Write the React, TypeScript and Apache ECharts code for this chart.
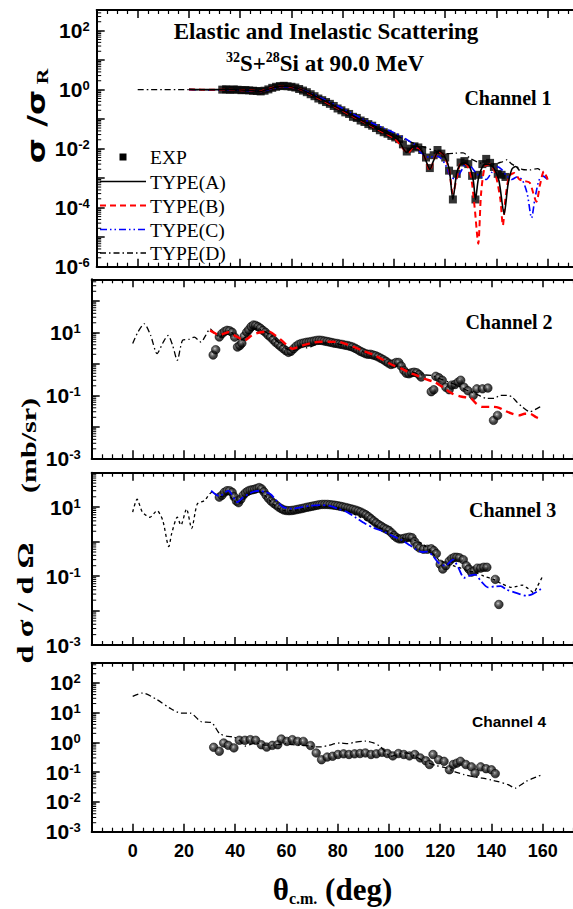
import React, { useEffect, useRef } from 'react';
import * as echarts from 'echarts';

const X_MIN = -16;
const X_MAX = 176;
const X_TICK_LABELS = [0, 20, 40, 60, 80, 100, 120, 140, 160];

// ---------- Channel 1 (sigma / sigma_R) ----------
const ch1Exp: [number, number][] = [
  [33, 1.0], [34.5, 1.03], [36, 0.98], [37.5, 1.02], [39, 0.99], [40.5, 0.96], [42, 0.97], [43.5, 0.94],
  [45, 0.92], [46.5, 0.9], [48, 0.87], [49.5, 0.92], [51, 1.02], [52.5, 1.15], [54, 1.25], [55.5, 1.32],
  [57, 1.35], [58.5, 1.3], [60, 1.25], [61.5, 1.18], [63, 1.05], [64.5, 0.93], [66, 0.82], [67.5, 0.7],
  [69, 0.6], [70.5, 0.5], [72, 0.44], [73.5, 0.38], [75, 0.33], [76.5, 0.28], [78, 0.23], [79.5, 0.2],
  [81, 0.17], [82.5, 0.15], [84, 0.12], [85.5, 0.11], [87, 0.09], [88.5, 0.08], [90, 0.068], [91.5, 0.06],
  [93, 0.05], [94.5, 0.042], [96, 0.036], [97.5, 0.032], [99, 0.027], [100.5, 0.024], [102, 0.021],
  [103.5, 0.014], [105, 0.008], [106.5, 0.01], [108, 0.012], [109.5, 0.011], [111, 0.009], [112.5, 0.005],
  [114, 0.0022], [115.5, 0.006], [117, 0.009], [118.5, 0.0068], [120, 0.005], [121.5, 0.0018], [123, 0.00019],
  [124.5, 0.0014], [126, 0.0034], [127.5, 0.0038], [129, 0.003], [130.5, 0.0012], [131.8, 0.00019],
  [133, 0.0013], [134.5, 0.003], [136, 0.0045], [137.5, 0.0033], [139, 0.0024], [140.5, 0.0014],
  [142, 0.0013], [143.5, 0.0011],
];
const ch1TypeA: [number, number][] = [
  [20, 1.02], [25, 1.0], [30, 1.0], [35, 1.0], [40, 0.97], [44, 0.93], [48, 0.88], [52, 1.1], [56, 1.32],
  [60, 1.25], [64, 1.0], [68, 0.68], [72, 0.46], [76, 0.3], [80, 0.2], [84, 0.13], [88, 0.085], [92, 0.056],
  [96, 0.037], [100, 0.025], [102, 0.018], [104, 0.009], [105, 0.0075], [107, 0.011], [109, 0.012],
  [111, 0.008], [113, 0.003], [114, 0.002], [115.5, 0.004], [117.5, 0.0085], [119.5, 0.006], [121.5, 0.0022],
  [123, 0.00019], [124.5, 0.0015], [126, 0.003], [127.5, 0.0033], [129.5, 0.0025], [131, 0.0008],
  [131.8, 0.00019], [133, 0.001], [135, 0.0028], [137, 0.003], [139, 0.0022], [141, 0.0008], [143, 0.00006],
  [144.5, 0.0006], [146, 0.002], [147.5, 0.0025], [149, 0.0018],
];
const ch1TypeB: [number, number][] = [
  [20, 1.02], [25, 1.0], [30, 1.0], [35, 1.0], [40, 0.96], [44, 0.93], [48, 0.89], [52, 1.12], [56, 1.3],
  [60, 1.22], [64, 0.98], [68, 0.66], [72, 0.44], [76, 0.29], [80, 0.19], [84, 0.125], [88, 0.082],
  [92, 0.054], [96, 0.035], [100, 0.023], [102, 0.015], [104, 0.009], [105.5, 0.007], [107.5, 0.011],
  [110, 0.01], [112, 0.005], [114, 0.0018], [115.5, 0.004], [117.5, 0.008], [119.5, 0.006], [121.5, 0.002],
  [123, 0.0003], [124.5, 0.001], [126, 0.003], [128, 0.003], [130, 0.0012], [131.5, 0.0001],
  [132.9, 0.000006], [134, 0.0003], [135.5, 0.0025], [137.5, 0.003], [139.5, 0.0015], [141.5, 0.0002],
  [142.5, 0.000025], [143.5, 0.0002], [145, 0.0012], [147, 0.0015], [149, 0.0009], [151, 0.0008],
  [153, 0.0007], [155.6, 0.00016], [157, 0.0006], [158.5, 0.0017], [160, 0.0009],
];
const ch1TypeC: [number, number][] = [
  [20, 1.0], [25, 0.99], [30, 0.98], [35, 0.97], [40, 0.95], [44, 0.92], [48, 0.87], [52, 1.05], [56, 1.25],
  [60, 1.22], [64, 1.0], [68, 0.72], [72, 0.5], [76, 0.34], [80, 0.23], [84, 0.15], [88, 0.1], [92, 0.07],
  [96, 0.05], [100, 0.035], [103, 0.026], [106, 0.018], [108, 0.014], [110, 0.008], [112, 0.006],
  [114, 0.005], [116, 0.0058], [118, 0.005], [120, 0.003], [122, 0.0012], [124, 0.0009], [126, 0.0016],
  [128, 0.003], [130, 0.0025], [132, 0.0015], [134, 0.0011], [136, 0.0009], [138, 0.0015], [140, 0.0025],
  [142, 0.002], [144, 0.0012], [146, 0.0009], [148, 0.0011], [150, 0.0009], [152, 0.0003],
  [153.7, 0.000045], [155, 0.0002], [156.5, 0.0008], [158, 0.0012], [160, 0.0009],
];
const ch1TypeD: [number, number][] = [
  [0, 1.0], [5, 1.0], [10, 1.0], [15, 1.0], [20, 1.0], [25, 1.0], [30, 1.0], [35, 0.99], [40, 0.97],
  [44, 0.93], [48, 0.9], [52, 1.1], [56, 1.3], [60, 1.25], [64, 1.02], [68, 0.7], [72, 0.48], [76, 0.32],
  [80, 0.21], [84, 0.14], [88, 0.092], [92, 0.062], [96, 0.043], [100, 0.03], [104, 0.021], [108, 0.015],
  [112, 0.011], [116, 0.0085], [120, 0.0068], [124, 0.007], [127, 0.0072], [130, 0.0045], [134, 0.0032],
  [138, 0.0029], [142, 0.0035], [144, 0.0042], [146, 0.003], [150, 0.002], [153, 0.0019], [156, 0.0021],
  [158, 0.0016], [160, 0.001],
];

// ---------- Channel 2 ----------
const ch2Exp: [number, number][] = [
  [31.4, 1.9], [32.4, 2.8], [33.8, 7.1], [34.8, 9], [35.8, 10.5], [36.8, 11.5], [37.8, 11.2], [38.8, 10],
  [39.8, 7], [40.9, 3.4], [41.8, 3.8], [42.6, 4.5], [43.5, 7.5], [44.5, 10], [45.3, 12], [46.2, 15],
  [47.1, 17], [48, 16.5], [48.9, 15], [49.8, 13.5], [50.8, 11.5], [51.8, 10], [52.8, 8.2], [53.8, 7],
  [54.8, 5.8], [55.8, 4.8], [56.8, 4.1], [57.8, 3.5], [58.8, 3.0], [59.8, 2.6], [60.8, 2.3], [61.8, 2.5],
  [62.8, 3.0], [63.8, 3.6], [64.8, 4.1], [65.8, 4.4], [66.8, 4.6], [67.8, 4.8], [68.8, 4.9], [69.8, 5.1],
  [70.8, 5.3], [71.8, 5.5], [72.8, 5.6], [73.8, 5.5], [74.8, 5.3], [75.8, 5.1], [76.8, 4.9], [77.8, 4.7],
  [78.8, 4.5], [79.8, 4.4], [80.8, 4.2], [81.8, 4.1], [82.8, 3.9], [83.8, 3.8], [84.8, 3.6], [85.8, 3.4],
  [86.8, 3.1], [87.8, 2.8], [88.8, 2.5], [89.8, 2.3], [90.8, 2.1], [91.8, 2.0], [92.8, 2.0], [93.8, 1.9],
  [94.8, 1.8], [95.8, 1.65], [96.8, 1.5], [97.8, 1.35], [98.8, 1.2], [99.8, 1.05], [100.8, 0.95],
  [101.8, 1.0], [102.8, 1.1], [103.8, 1.1], [104.8, 0.85], [105.8, 0.62], [106.8, 0.5], [107.8, 0.48],
  [108.8, 0.52], [109.8, 0.54], [110.8, 0.52], [111.8, 0.45], [112.6, 0.38], [116.5, 0.13], [117.5, 0.15],
  [118.3, 0.4], [119.5, 0.36], [120.8, 0.3], [122.2, 0.18], [123.5, 0.15], [124.5, 0.21], [125.8, 0.22],
  [127, 0.26], [128, 0.3], [129.3, 0.18], [130.8, 0.14], [132.9, 0.1], [134.3, 0.16], [136.5, 0.16],
  [138.6, 0.17], [140.8, 0.016], [142.4, 0.023],
];
const ch2TypeB: [number, number][] = [
  [30.2, 11.5], [32, 9.5], [33.8, 8], [35.5, 9], [37.3, 10], [39, 8.5], [40.9, 7], [42.5, 6], [43.8, 5.6],
  [46, 7.5], [48, 9.1], [50, 10], [52, 10.5], [53.7, 10.2], [56, 7.5], [58, 5.6], [60, 4], [62.3, 3],
  [64.5, 3.4], [66.6, 3.9], [70, 4.6], [72, 4.9], [76, 5], [80.8, 4.9], [84, 4], [89.4, 2.7], [94, 1.9],
  [98, 1.3], [101, 0.95], [105, 0.7], [108, 0.52], [110.8, 0.43], [114, 0.33], [118, 0.26], [121, 0.18],
  [125, 0.11], [128.5, 0.09], [132, 0.08], [134, 0.055], [136.5, 0.043], [140.8, 0.043], [143, 0.04],
  [145, 0.033], [148, 0.026], [150.7, 0.023], [153, 0.026], [155, 0.026], [157.5, 0.02], [160, 0.016],
];
const ch2TypeD: [number, number][] = [
  [0, 4.4], [2, 10], [4.5, 18.6], [7, 8], [9.5, 2.1], [12, 5], [13.8, 7.9], [15.5, 4], [17.4, 1.3],
  [19.5, 5.6], [22, 6], [24, 7], [26.6, 4.9], [28.5, 8], [30.2, 13], [32, 9], [34, 7], [36, 10], [38, 11],
  [40, 7], [42, 5.5], [44, 7], [46, 10], [48, 13], [50, 12], [52, 10], [54, 8], [56, 5.5], [58, 4], [60, 3],
  [62, 2.6], [64, 3], [66, 3.5], [68, 3.2], [70, 3.6], [72, 4.2], [76, 4.6], [80, 4.3], [84, 3.6], [88, 2.8],
  [92, 2.0], [96, 1.5], [100, 1.1], [104, 0.8], [108, 0.6], [112, 0.45], [116.5, 0.43], [120, 0.33],
  [124, 0.25], [126.5, 0.21], [130, 0.15], [134, 0.11], [138, 0.08], [141, 0.08], [143.6, 0.1], [146, 0.1],
  [148, 0.089], [150, 0.06], [152, 0.043], [155, 0.03], [157, 0.035], [159, 0.043], [160, 0.045],
];

// ---------- Channel 3 ----------
const ch3Exp: [number, number][] = [
  [33.8, 19.5], [34.8, 22], [35.8, 27], [36.8, 30], [37.8, 30], [38.8, 27], [39.6, 20], [40.5, 15],
  [41.3, 13.5], [42.2, 17], [43.1, 22], [44, 26], [44.9, 29], [45.8, 31], [46.7, 32], [47.6, 33], [48.5, 35],
  [49.4, 37], [50.3, 34], [51.2, 28], [52.1, 22], [53, 18], [54, 15], [55, 13], [56, 11.5], [57, 10], [58, 9],
  [59, 8.3], [60, 8], [61, 7.9], [62, 8], [63, 8.2], [64, 8.5], [65, 8.8], [66, 9.1], [67, 9.5], [68, 9.9],
  [69, 10.2], [70, 10.6], [71, 11], [72, 11.4], [73, 11.8], [74, 12], [75, 12], [76, 12], [77, 11.8],
  [78, 11.6], [79, 11.3], [80, 11], [81, 10.6], [82, 10.2], [83, 9.8], [84, 9.4], [85, 9], [86, 8.6],
  [87, 8.2], [88, 7.7], [89, 7.2], [90, 6.6], [91, 6], [92, 5.3], [93, 4.6], [94, 4], [95, 3.5], [96, 3.1],
  [97, 2.8], [98, 2.5], [99, 2.3], [100, 2.1], [101, 1.8], [102, 1.5], [103, 1.3], [104, 1.2], [105, 1.2],
  [106, 1.25], [107, 1.3], [108, 1.35], [109, 1.3], [110, 1.0], [111, 0.75], [112, 0.65], [113.5, 0.6],
  [115, 0.6], [116.5, 0.62], [117.5, 0.55], [118.5, 0.45], [120, 0.22], [121, 0.16], [122.2, 0.2],
  [123.5, 0.27], [124.5, 0.32], [125.5, 0.35], [126.5, 0.35], [127.5, 0.34], [129, 0.3], [130.2, 0.2],
  [131.2, 0.16], [132.2, 0.13], [133.2, 0.14], [134.5, 0.17], [135.8, 0.17], [137, 0.18], [138.2, 0.18],
  [141.5, 0.08], [142.9, 0.015],
];
const ch3TypeC: [number, number][] = [
  [30.6, 30], [33.8, 21], [37.3, 30], [40.9, 14], [43, 19], [45.2, 24], [47, 28], [49.5, 30], [51.5, 28],
  [53.7, 24], [56, 16], [58.7, 10], [62.3, 9], [66, 10], [69.4, 11], [73, 11.5], [76.6, 11], [80, 9],
  [83.7, 7.2], [87, 5], [90.8, 3.3], [94, 2.5], [98, 1.95], [101, 1.5], [105.1, 1.1], [108, 0.8],
  [110.8, 0.58], [113, 0.5], [115, 0.51], [117, 0.4], [119.4, 0.24], [122, 0.2], [125, 0.3], [127, 0.18],
  [129.3, 0.089], [131, 0.1], [133.6, 0.11], [136, 0.07], [138.6, 0.047], [141, 0.05], [143.6, 0.051],
  [146, 0.04], [149.3, 0.033], [151, 0.03], [153.6, 0.027], [156, 0.03], [159.3, 0.042],
];
const ch3TypeD: [number, number][] = [
  [0, 7.2], [1.7, 17], [3.8, 7.2], [6.7, 5.1], [9.5, 7.9], [11.7, 4.2], [14.1, 0.72], [15.2, 1.7],
  [17.4, 5.1], [18.8, 3], [21, 8.9], [23, 2.4], [25.2, 12.3], [28, 15.5], [30.9, 27], [33, 22], [35, 20],
  [37, 24], [39, 17], [41, 13], [43, 17], [45, 22], [47, 27], [49, 29], [51, 24], [53, 17], [55, 12], [57, 9],
  [59, 8], [62, 8], [65, 8.5], [68, 9.5], [72, 10.5], [76, 10.5], [80, 9.5], [84, 7.5], [88, 5.5], [92, 3.8],
  [96, 2.6], [100, 1.9], [104, 1.4], [108, 1.1], [110, 1.1], [113.7, 0.79], [116, 0.55], [119.4, 0.3],
  [122, 0.24], [125, 0.2], [128, 0.17], [131, 0.14], [133.6, 0.13], [137, 0.1], [140.8, 0.08], [144, 0.06],
  [147.9, 0.047], [150, 0.05], [152, 0.055], [153.6, 0.047], [155, 0.04], [156.4, 0.033], [157.9, 0.05],
  [160, 0.1],
];

// ---------- Channel 4 ----------
const ch4Exp: [number, number][] = [
  [31.6, 0.68], [33.8, 0.5], [35.5, 0.95], [37.3, 0.79], [39.5, 0.65], [41.6, 1.17], [43.8, 1.17],
  [45.9, 1.23], [48, 1.17], [50.2, 0.83], [52.3, 0.69], [54.5, 0.79], [56.6, 0.83], [58, 1.29], [60.2, 1.07],
  [62.3, 1.23], [64.4, 1.07], [66.6, 1.07], [69.4, 0.78], [71.6, 0.44], [73.7, 0.26], [75.9, 0.32],
  [78, 0.34], [80.1, 0.39], [82.3, 0.41], [84.4, 0.39], [86.6, 0.41], [88.7, 0.42], [90.8, 0.44], [93, 0.39],
  [95.1, 0.41], [97.3, 0.46], [99.4, 0.42], [101.5, 0.35], [103.7, 0.42], [105.8, 0.39], [108, 0.35],
  [110.1, 0.39], [112.2, 0.3], [114.4, 0.24], [115.8, 0.18], [117.2, 0.39], [119.4, 0.26], [121.5, 0.23],
  [123.6, 0.12], [125.1, 0.18], [126.5, 0.2], [127.9, 0.23], [130, 0.18], [132.2, 0.15], [133.6, 0.093],
  [135.8, 0.15], [137.9, 0.13], [140, 0.12], [141.5, 0.089],
];
const ch4TypeD: [number, number][] = [
  [0, 35], [3.8, 45], [9.5, 27], [14.5, 14], [18.8, 9.6], [22.4, 9.6], [26.6, 5], [30.9, 4.5], [33.8, 2],
  [36.6, 1.6], [39.5, 1.5], [41.5, 1.2], [43.8, 0.75], [46, 0.85], [48, 0.95], [52, 0.8], [56.6, 0.83],
  [60, 0.9], [62.3, 0.83], [66, 0.8], [69.4, 0.74], [71, 0.7], [73.7, 0.7], [76.6, 0.8], [80.8, 0.95],
  [84, 0.9], [86.6, 1.0], [90.8, 1.1], [94, 0.95], [96.5, 0.74], [100.8, 0.34], [103, 0.38], [106.5, 0.44],
  [110, 0.35], [113.7, 0.23], [118, 0.17], [122.2, 0.14], [126, 0.1], [129.3, 0.083], [133, 0.07],
  [136.5, 0.063], [140, 0.054], [142.2, 0.049], [146.5, 0.038], [149.3, 0.029], [151, 0.035], [153.6, 0.049],
  [156.4, 0.063], [160, 0.083],
];

const Y_MIN = [1e-6, 1e-3, 1e-3, 1e-3];
const Y_MAX = [500, 480, 100, 470];
const CHANNEL_LABELS = ['Channel 1', 'Channel 2', 'Channel 3', 'Channel 4'];
const LEGEND_NAMES = ['EXP', 'TYPE(A)', 'TYPE(B)', 'TYPE(C)', 'TYPE(D)'];

const SERIF = '"Liberation Serif", "Times New Roman", serif';
const SANS = '"Liberation Sans", Arial, sans-serif';

const STYLE_A = { color: '#000', width: 1.6, type: 'solid' as any };
const STYLE_B = { color: '#ff0000', width: 2, type: [6, 4] as any };
const STYLE_C = { color: '#0000ff', width: 1.6, type: [7, 3, 1.5, 3, 1.5, 3] as any };
const STYLE_D = { color: '#000', width: 1.3, type: [6, 3, 1.5, 3] as any };

const GRIDS = [
  { left: 96.7, top: 10, width: 492, height: 256.7 },
  { left: 91.7, top: 279.3, width: 492, height: 179 },
  { left: 91.7, top: 472.7, width: 492, height: 172.3 },
  { left: 91.7, top: 662.7, width: 492, height: 169 },
];

function buildOption() {
  const sphere = new echarts.graphic.RadialGradient(0.4, 0.38, 0.62, [
    { offset: 0, color: '#cfcfcf' },
    { offset: 0.22, color: '#6a6a6a' },
    { offset: 0.6, color: '#1a1a1a' },
    { offset: 1, color: '#000' },
  ]);

  const xAxes: any[] = [];
  GRIDS.forEach((_, i) => {
    const base = {
      type: 'value',
      gridIndex: i,
      min: X_MIN,
      max: X_MAX,
      splitNumber: 10,
      splitLine: { show: false },
      axisLine: { show: true, onZero: false, lineStyle: { color: '#000', width: 2 } },
      axisTick: { show: true, inside: true, length: 8, lineStyle: { color: '#000', width: 1.5 } },
      minorTick: { show: true, splitNumber: 5, length: 4, lineStyle: { color: '#000', width: 1.2 } },
    };
    xAxes.push({
      ...base,
      position: 'bottom',
      axisLabel: {
        show: i === 3,
        margin: 10,
        color: '#000',
        fontSize: 18,
        fontWeight: 'bold',
        fontFamily: SANS,
        formatter: (v: number) => (X_TICK_LABELS.indexOf(Math.round(v)) >= 0 && Math.abs(v - Math.round(v)) < 1e-6 ? String(Math.round(v)) : ''),
      },
    });
    xAxes.push({ ...base, position: 'top', axisLabel: { show: false } });
  });

  const showExp = [
    (e: number) => e % 2 === 0,
    (e: number) => Math.abs(e % 2) === 1,
    (e: number) => Math.abs(e % 2) === 1,
    (_e: number) => true,
  ];

  const yAxes = GRIDS.map((_, i) => ({
    type: 'log',
    logBase: 10,
    gridIndex: i,
    min: Y_MIN[i],
    max: Y_MAX[i],
    splitLine: { show: false },
    axisLine: { show: true, onZero: false, lineStyle: { color: '#000', width: 2 } },
    axisTick: { show: true, inside: true, length: 8, lineStyle: { color: '#000', width: 1.5 } },
    minorTick: { show: false },
    axisLabel: {
      margin: i === 0 ? 7 : 11,
      formatter: (v: number) => {
        const l = Math.log10(v);
        const e = Math.round(l);
        if (Math.abs(l - e) > 1e-6) return '';
        if (!showExp[i](e)) return '';
        return `{b|10}{e|${e}}`;
      },
      rich: {
        b: { fontSize: 21, fontWeight: 'bold', fontFamily: SANS, color: '#000', lineHeight: 21 },
        e: { fontSize: 13, fontWeight: 'bold', fontFamily: SANS, color: '#000', lineHeight: 12, verticalAlign: 'top' },
      },
    },
  }));

  const minorTicks = (i: number) => {
    const vals: [number, number][] = [];
    const lo = Math.floor(Math.log10(Y_MIN[i]));
    const hi = Math.ceil(Math.log10(Y_MAX[i]));
    for (let e = lo; e <= hi; e++) {
      for (let k = 2; k <= 9; k++) {
        const v = k * Math.pow(10, e);
        if (v > Y_MIN[i] && v < Y_MAX[i]) vals.push([X_MIN, v]);
      }
    }
    return {
      type: 'custom',
      xAxisIndex: i * 2,
      yAxisIndex: i,
      silent: true,
      clip: false,
      z: 5,
      data: vals,
      renderItem: (_p: any, api: any) => {
        const pt = api.coord([api.value(0), api.value(1)]);
        return {
          type: 'line',
          shape: { x1: pt[0], y1: pt[1], x2: pt[0] + 4.5, y2: pt[1] },
          style: { stroke: '#000', lineWidth: 1 },
        };
      },
    };
  };

  const line = (name: string, i: number, data: [number, number][], ls: any) => ({
    type: 'line',
    name,
    xAxisIndex: i * 2,
    yAxisIndex: i,
    data,
    symbol: 'none',
    showSymbol: false,
    smooth: 0.25,
    clip: true,
    z: 3,
    lineStyle: ls,
  });

  const expSquares = (i: number, data: [number, number][]) => ({
    type: 'scatter',
    name: 'EXP',
    xAxisIndex: i * 2,
    yAxisIndex: i,
    data,
    symbol: 'rect',
    symbolSize: 8,
    z: 2,
    itemStyle: { color: '#000' },
  });
  const expBalls = (i: number, data: [number, number][]) => ({
    type: 'scatter',
    name: 'EXP',
    xAxisIndex: i * 2,
    yAxisIndex: i,
    data,
    symbol: 'circle',
    symbolSize: 8.5,
    z: 2,
    itemStyle: { color: sphere, borderColor: '#000', borderWidth: 0.7 },
  });

  const series: any[] = [
    expSquares(0, ch1Exp),
    line('TYPE(D)', 0, ch1TypeD, STYLE_D),
    line('TYPE(C)', 0, ch1TypeC, STYLE_C),
    line('TYPE(B)', 0, ch1TypeB, STYLE_B),
    line('TYPE(A)', 0, ch1TypeA, STYLE_A),
    expBalls(1, ch2Exp),
    line('TYPE(D)', 1, ch2TypeD, STYLE_D),
    line('TYPE(B)', 1, ch2TypeB, { ...STYLE_B, width: 2.4, type: [8, 5] }),
    expBalls(2, ch3Exp),
    line('TYPE(D)', 2, ch3TypeD, { ...STYLE_D, type: [3, 3] }),
    line('TYPE(C)', 2, ch3TypeC, { ...STYLE_C, width: 1.8, type: [9, 3, 2, 3] }),
    expBalls(3, ch4Exp),
    line('TYPE(D)', 3, ch4TypeD, STYLE_D),
    minorTicks(0),
    minorTicks(1),
    minorTicks(2),
    minorTicks(3),
  ];

  const legendY = [157, 181.5, 205.5, 229.5, 253];
  const legendStyles = [null, STYLE_A, STYLE_B, STYLE_C, STYLE_D];
  const graphic: any[] = [];
  LEGEND_NAMES.forEach((nm, k) => {
    const ls = legendStyles[k];
    if (!ls) {
      graphic.push({ type: 'rect', shape: { x: 119.5, y: legendY[k] - 3.5, width: 7, height: 7 }, style: { fill: '#000' } });
    } else {
      graphic.push({
        type: 'line',
        shape: { x1: 100, y1: legendY[k], x2: 146, y2: legendY[k] },
        style: { stroke: ls.color, lineWidth: ls.width, lineDash: Array.isArray(ls.type) ? ls.type : null },
      });
    }
    graphic.push({
      type: 'text', x: 150, y: legendY[k] + 0.5,
      style: { text: nm, font: `19.5px ${SERIF}`, fill: '#000', align: 'left', verticalAlign: 'middle' },
    });
  });

  // titles
  graphic.push({
    type: 'text', x: 326, y: 31.7,
    style: { text: 'Elastic and Inelastic Scattering', font: `bold 23px ${SERIF}`, fill: '#000', align: 'center', verticalAlign: 'middle' },
  });
  graphic.push({
    type: 'text', x: 325, y: 63,
    style: {
      text: '{s|32}{m|S+}{s|28}{m|Si at 90.0 MeV}',
      align: 'center', verticalAlign: 'middle',
      rich: {
        m: { fontSize: 23, fontWeight: 'bold', fontFamily: SERIF, fill: '#000', lineHeight: 26 },
        s: { fontSize: 14, fontWeight: 'bold', fontFamily: SERIF, fill: '#000', lineHeight: 14, verticalAlign: 'top' },
      },
    },
  });

  const chPos = [[508, 98], [509, 321.7], [512.6, 510], [509, 721.7]];
  CHANNEL_LABELS.forEach((t, k) => {
    graphic.push({
      type: 'text', x: chPos[k][0], y: chPos[k][1],
      style: {
        text: t,
        font: k === 3 ? `bold 15.5px ${SANS}` : `bold 20px ${SERIF}`,
        fill: '#000', align: 'center', verticalAlign: 'middle',
      },
    });
  });

  // axis titles
  graphic.push({
    type: 'text', x: 37, y: 116, rotation: Math.PI / 2, scaleX: 1.35,
    style: {
      text: '{g|σ /σ}{r| R}', align: 'center', verticalAlign: 'middle',
      rich: {
        g: { fontSize: 24, fontWeight: 'bold', fontFamily: '"DejaVu Sans", sans-serif', fill: '#000', lineHeight: 28 },
        r: { fontSize: 16, fontWeight: 'bold', fontFamily: SERIF, fill: '#000', lineHeight: 18, verticalAlign: 'bottom' },
      },
    },
  });
  graphic.push({
    type: 'text', x: 29, y: 445.5, rotation: Math.PI / 2, scaleX: 1.5,
    style: { text: '(mb/sr)', font: `bold 20px ${SERIF}`, fill: '#000', align: 'center', verticalAlign: 'middle' },
  });
  graphic.push({
    type: 'text', x: 25, y: 603, rotation: Math.PI / 2, scaleX: 1.35,
    style: { text: 'd σ / d Ω', font: `bold 24px ${SERIF}`, fill: '#000', align: 'center', verticalAlign: 'middle' },
  });
  graphic.push({
    type: 'text', x: 332.5, y: 898,
    style: {
      text: '{t|θ}{s|c.m.}{t| (deg)}', align: 'center', verticalAlign: 'middle',
      rich: {
        t: { fontSize: 31, fontWeight: 'bold', fontFamily: SERIF, fill: '#000', lineHeight: 30, verticalAlign: 'top' },
        s: { fontSize: 16, fontWeight: 'bold', fontFamily: SERIF, fill: '#000', lineHeight: 48 },
      },
    },
  });

  return {
    animation: false,
    backgroundColor: '#fff',
    grid: GRIDS.map((g) => ({ ...g, containLabel: false })),
    xAxis: xAxes,
    yAxis: yAxes,
    series,
    graphic,
  };
}

export default function App() {
  const ref = useRef<HTMLDivElement>(null);
  useEffect(() => {
    if (!ref.current) return;
    document.body.style.margin = '0';
    document.body.style.overflow = 'hidden';
    const chart = echarts.init(ref.current, undefined, { renderer: 'svg' });
    chart.setOption(buildOption() as any);
    return () => chart.dispose();
  }, []);
  return (
    <div style={{ position: 'absolute', left: 0, top: 0, width: 573, height: 909, overflow: 'hidden', background: '#fff' }}>
      <div ref={ref} style={{ position: 'absolute', left: 0, top: 0, width: 600, height: 909 }} />
    </div>
  );
}
